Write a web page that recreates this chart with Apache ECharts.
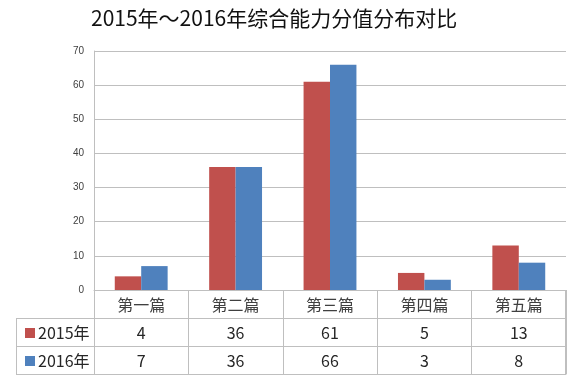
<!DOCTYPE html>
<html><head><meta charset="utf-8">
<script src="https://cdn.jsdelivr.net/npm/echarts@6/dist/echarts.min.js"></script>
<style>html,body{margin:0;padding:0;background:#fff}#c{width:572px;height:381px}</style>
</head><body><div id="c"></div>
<script>
var title = '2015年～2016年综合能力分值分布对比';
var categories = ['第一篇', '第二篇', '第三篇', '第四篇', '第五篇'];
var seriesNames = ['2015年', '2016年'];
var values2015 = [4, 36, 61, 5, 13];
var values2016 = [7, 36, 66, 3, 8];
var yTicks = [0, 10, 20, 30, 40, 50, 60, 70];

var FONT = '"Noto Sans CJK SC", "Noto Sans", sans-serif';
var lineColor = '#BFBFBF';
var chart = echarts.init(document.getElementById('c'));

function rowAxis(data, offset, showLabel) {
  return {
    type: 'category', data: data, position: 'bottom', offset: offset,
    axisLine: {show: true, lineStyle: {color: lineColor, width: 1}},
    axisTick: {show: false},
    axisLabel: {show: showLabel, margin: 7, fontSize: 16, color: '#262626', fontFamily: FONT},
    splitLine: {show: false}
  };
}

chart.setOption({
  animation: false,
  title: {text: title, left: 86, top: 3,
    textStyle: {fontSize: 21, fontWeight: 'normal', color: '#111', fontFamily: FONT}},
  grid: {left: 94, right: 6, top: 51, bottom: 91, containLabel: false},
  legend: {
    data: seriesNames, orient: 'vertical', left: 20, top: 320, itemGap: 12,
    icon: 'rect', itemWidth: 10, itemHeight: 10,
    textStyle: {fontSize: 16, color: '#262626', fontFamily: FONT, padding: [0, 0, 0, -2]}
  },
  xAxis: [
    {
      type: 'category', data: categories, position: 'bottom',
      axisLine: {show: true, lineStyle: {color: lineColor}},
      axisTick: {show: true, length: 84, lineStyle: {color: lineColor}},
      axisLabel: {margin: 7, fontSize: 16, color: '#404040', fontFamily: FONT}
    },
    rowAxis(values2015.map(String), 28, true),
    rowAxis(values2016.map(String), 56, true),
    rowAxis(categories, 84, false)
  ],
  yAxis: {
    type: 'value', min: yTicks[0], max: yTicks[yTicks.length - 1], interval: 10,
    axisLine: {show: true, lineStyle: {color: lineColor}},
    axisTick: {show: false},
    axisLabel: {fontSize: 10, color: '#404040', margin: 10, fontFamily: '"Liberation Sans", sans-serif'},
    splitLine: {lineStyle: {color: lineColor}}
  },
  series: [
    {name: seriesNames[0], type: 'bar', data: values2015, barGap: '0%', barCategoryGap: '44%',
      itemStyle: {color: '#C0504D'}},
    {name: seriesNames[1], type: 'bar', data: values2016, itemStyle: {color: '#4F81BD'}}
  ]
});

// table borders outside the axes, aligned to the category axis
var step = chart.convertToPixel({xAxisIndex: 0}, 1) - chart.convertToPixel({xAxisIndex: 0}, 0);
var xLeft = chart.convertToPixel({xAxisIndex: 0}, 0) - step / 2;
var xRight = chart.convertToPixel({xAxisIndex: 0}, categories.length - 1) + step / 2;
var y0 = chart.convertToPixel({yAxisIndex: 0}, 0);
var tableLeft = 16;
var st = {stroke: lineColor, lineWidth: 1};
chart.setOption({
  graphic: [
    {type: 'line', shape: {x1: tableLeft, y1: y0 + 28.5, x2: xLeft, y2: y0 + 28.5}, style: st},
    {type: 'line', shape: {x1: tableLeft, y1: y0 + 56.5, x2: xLeft, y2: y0 + 56.5}, style: st},
    {type: 'line', shape: {x1: tableLeft, y1: y0 + 84.5, x2: xLeft, y2: y0 + 84.5}, style: st},
    {type: 'line', shape: {x1: tableLeft + 0.5, y1: y0 + 28, x2: tableLeft + 0.5, y2: y0 + 85}, style: st},
    {type: 'line', shape: {x1: Math.round(xLeft) + 0.5, y1: y0, x2: Math.round(xLeft) + 0.5, y2: y0 + 85}, style: st},
    {type: 'line', shape: {x1: Math.round(xRight) - 0.5, y1: y0, x2: Math.round(xRight) - 0.5, y2: y0 + 85}, style: st}
  ]
});
</script></body></html>
